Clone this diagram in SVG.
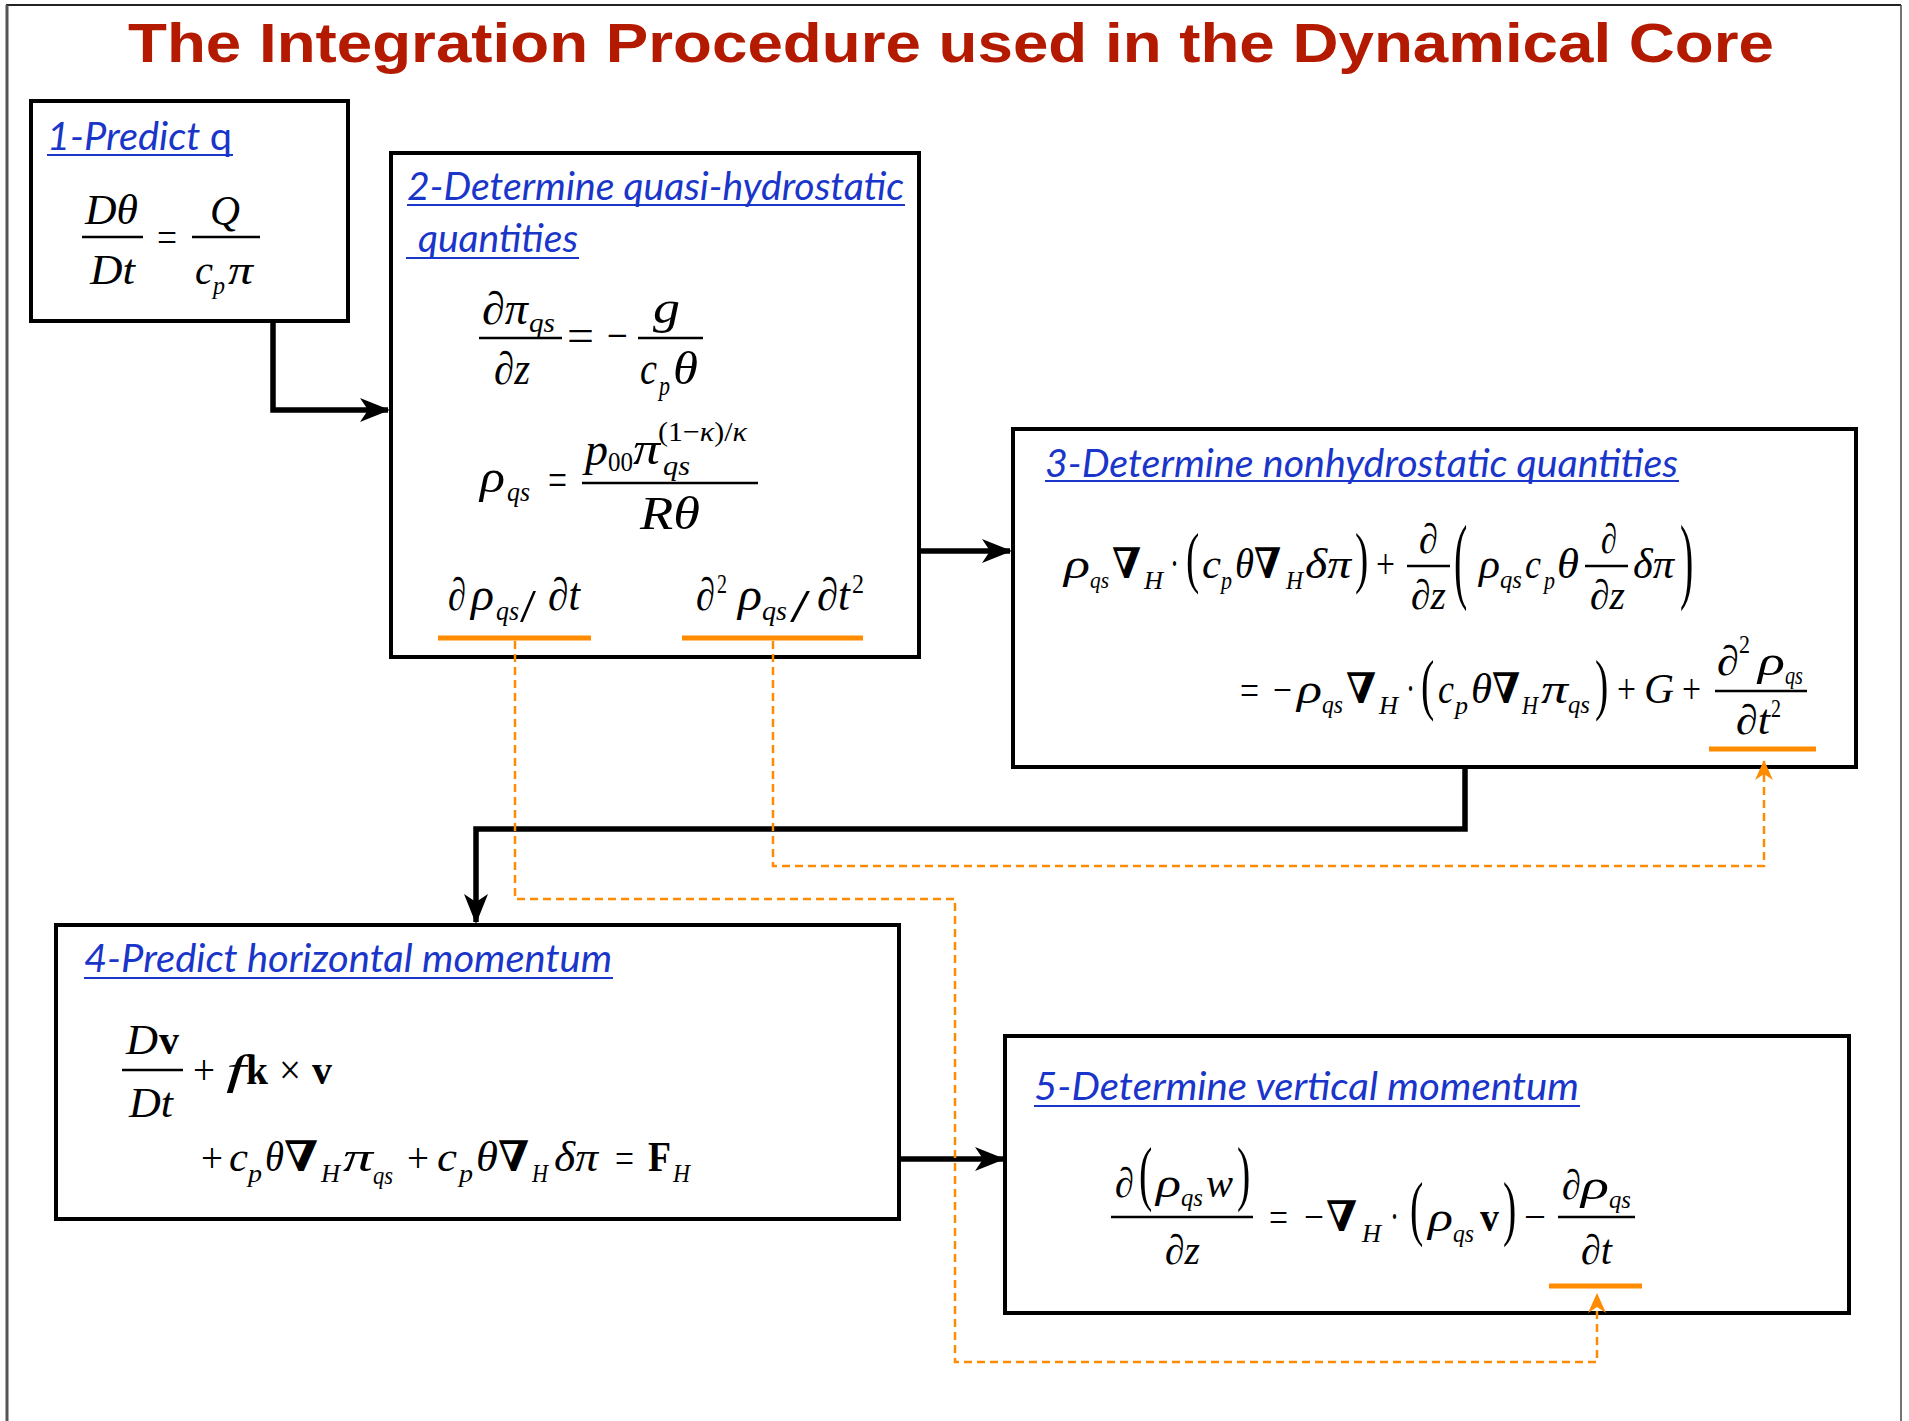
<svg xmlns="http://www.w3.org/2000/svg" width="1909" height="1421" viewBox="0 0 1909 1421">
<style>
.box{fill:#fff;stroke:#000;stroke-width:4}
.ttl{font-family:Lato,"Open Sans",sans-serif;font-style:italic;font-size:38px;fill:#1a35c9}
.ul{stroke:#1a35c9;stroke-width:2}
.m{font-family:"Liberation Serif","DejaVu Serif",serif;font-style:italic;font-size:42px;fill:#000}
.u{font-family:"Liberation Serif","DejaVu Serif",serif;font-size:42px;fill:#000}
.b{font-family:"Liberation Serif","DejaVu Serif",serif;font-weight:bold;font-size:42px;fill:#000}
.s{font-size:26px}
.t2{font-size:46px}
.s2{font-size:28px}
.p{font-family:"Liberation Serif","DejaVu Serif",serif;font-size:40px;fill:#000}
.fb{stroke:#000;stroke-width:2.5}
.ob{stroke:#ff8c00;stroke-width:5}
.blk{fill:none;stroke:#000;stroke-width:5.5}
.org{fill:none;stroke:#ff8c00;stroke-width:2.5;stroke-dasharray:8 5}
</style>
<defs>
<marker id="ah" markerUnits="userSpaceOnUse" viewBox="0 0 30 24" markerWidth="30" markerHeight="24" refX="28" refY="12" orient="auto">
<path d="M0,0 L30,12 L0,24 L8,12 z" fill="#000"/>
</marker>
<marker id="oh" markerUnits="userSpaceOnUse" viewBox="0 0 20 18" markerWidth="20" markerHeight="18" refX="19" refY="9" orient="auto">
<path d="M0,0 L20,9 L0,18 L6,9 z" fill="#ff8c00"/>
</marker>
</defs>
<rect width="1909" height="1421" fill="#fff"/>
<g id="frame" fill="none">
<line x1="6" y1="5" x2="1901" y2="5" stroke="#222" stroke-width="2"/>
<line x1="7" y1="5" x2="7" y2="1421" stroke="#555" stroke-width="3"/>
<line x1="1901" y1="5" x2="1901" y2="1421" stroke="#444" stroke-width="1.5"/>
</g>
<text id="title" x="128" y="62" font-family="'Liberation Sans',Arial,sans-serif" font-weight="bold" font-size="56" fill="#b41a00" textLength="1646" lengthAdjust="spacingAndGlyphs">The Integration Procedure used in the Dynamical Core</text>

<g id="node1">
<rect class="box" x="31" y="101" width="317" height="220"/>
<text class="ttl" x="47" y="150" textLength="185" lengthAdjust="spacingAndGlyphs">1-Predict <tspan font-style="normal">q</tspan></text>
<line class="ul" x1="47" y1="155" x2="233" y2="155"/>
<text class="m" x="85" y="224" textLength="53" lengthAdjust="spacingAndGlyphs">Dθ</text>
<line class="fb" x1="82" y1="237" x2="143" y2="237"/>
<text class="m" x="90" y="284" textLength="45" lengthAdjust="spacingAndGlyphs">Dt</text>
<text class="u" x="157" y="251" textLength="20" lengthAdjust="spacingAndGlyphs">=</text>
<text class="m" x="210" y="225" textLength="30" lengthAdjust="spacingAndGlyphs">Q</text>
<line class="fb" x1="192" y1="237" x2="260" y2="237"/>
<text class="m" x="195" y="284" textLength="18" lengthAdjust="spacingAndGlyphs">c</text>
<text class="m s" x="213" y="294" textLength="12" lengthAdjust="spacingAndGlyphs">p</text>
<text class="m" x="228" y="284" textLength="25" lengthAdjust="spacingAndGlyphs">π</text>
</g>

<g id="node2">
<rect class="box" x="391" y="153" width="528" height="504"/>
<text class="ttl" x="407" y="200" textLength="497" lengthAdjust="spacingAndGlyphs">2-Determine quasi-hydrostatic</text>
<line class="ul" x1="407" y1="205" x2="905" y2="205"/>
<text class="ttl" x="418" y="252" textLength="160" lengthAdjust="spacingAndGlyphs">quantities</text>
<line class="ul" x1="406" y1="258" x2="579" y2="258"/>
<text class="m t2" x="482" y="324" textLength="46" lengthAdjust="spacingAndGlyphs">∂π</text>
<text class="m s2" x="529" y="332" textLength="26" lengthAdjust="spacingAndGlyphs">qs</text>
<line class="fb" x1="479" y1="338" x2="562" y2="338"/>
<text class="m t2" x="494" y="384" textLength="36" lengthAdjust="spacingAndGlyphs">∂z</text>
<text class="u t2" x="567" y="351" textLength="27" lengthAdjust="spacingAndGlyphs">=</text>
<text class="u t2" x="607" y="351" textLength="21" lengthAdjust="spacingAndGlyphs">−</text>
<text class="m t2" x="653" y="323" textLength="27" lengthAdjust="spacingAndGlyphs">g</text>
<line class="fb" x1="638" y1="338" x2="703" y2="338"/>
<text class="m t2" x="640" y="384" textLength="17" lengthAdjust="spacingAndGlyphs">c</text>
<text class="m s2" x="659" y="395" textLength="11" lengthAdjust="spacingAndGlyphs">p</text>
<text class="m t2" x="673" y="384" textLength="25" lengthAdjust="spacingAndGlyphs">θ</text>

<text class="m t2" x="480" y="492" textLength="25" lengthAdjust="spacingAndGlyphs">ρ</text>
<text class="m s2" x="507" y="501" textLength="23" lengthAdjust="spacingAndGlyphs">qs</text>
<text class="u t2" x="548" y="495" textLength="19" lengthAdjust="spacingAndGlyphs">=</text>
<text class="m t2" x="585" y="465" textLength="23" lengthAdjust="spacingAndGlyphs">p</text>
<text class="u s2" x="608" y="471" textLength="25" lengthAdjust="spacingAndGlyphs">00</text>
<text class="m t2" x="633" y="464" textLength="27" lengthAdjust="spacingAndGlyphs">π</text>
<text class="u s2" x="658" y="441" textLength="89" lengthAdjust="spacingAndGlyphs">(1−<tspan font-style="italic">κ</tspan>)/<tspan font-style="italic">κ</tspan></text>
<text class="m s2" x="663" y="475" textLength="27" lengthAdjust="spacingAndGlyphs">qs</text>
<line class="fb" x1="582" y1="483" x2="758" y2="483"/>
<text class="m t2" x="640" y="529" textLength="60" lengthAdjust="spacingAndGlyphs">Rθ</text>

<text class="m t2" x="448" y="610" textLength="18" lengthAdjust="spacingAndGlyphs">∂</text>
<text class="m t2" x="471" y="610" textLength="23" lengthAdjust="spacingAndGlyphs">ρ</text>
<text class="m s2" x="496" y="620" textLength="23" lengthAdjust="spacingAndGlyphs">qs</text>
<text class="u t2" x="520" y="622" textLength="16" lengthAdjust="spacingAndGlyphs">/</text>
<text class="m t2" x="548" y="610" textLength="32" lengthAdjust="spacingAndGlyphs">∂t</text>
<line class="ob" x1="438" y1="638" x2="591" y2="638"/>

<text class="m t2" x="696" y="610" textLength="19" lengthAdjust="spacingAndGlyphs">∂</text>
<text class="u s2" x="717" y="593" textLength="10" lengthAdjust="spacingAndGlyphs">2</text>
<text class="m t2" x="738" y="610" textLength="24" lengthAdjust="spacingAndGlyphs">ρ</text>
<text class="m s2" x="762" y="620" textLength="25" lengthAdjust="spacingAndGlyphs">qs</text>
<text class="u t2" x="790" y="622" textLength="20" lengthAdjust="spacingAndGlyphs">/</text>
<text class="m t2" x="817" y="610" textLength="33" lengthAdjust="spacingAndGlyphs">∂t</text>
<text class="u s2" x="852" y="593" textLength="12" lengthAdjust="spacingAndGlyphs">2</text>
<line class="ob" x1="682" y1="638" x2="863" y2="638"/>
</g>

<g id="node3">
<rect class="box" x="1013" y="429" width="843" height="338"/>
<text class="ttl" x="1045" y="477" textLength="633" lengthAdjust="spacingAndGlyphs">3-Determine nonhydrostatic quantities</text>
<line class="ul" x1="1045" y1="481" x2="1679" y2="481"/>
<text class="m" x="1064" y="578" textLength="26" lengthAdjust="spacingAndGlyphs">ρ</text>
<text class="m" x="1090" y="588" style="font-size:24px" textLength="19" lengthAdjust="spacingAndGlyphs">qs</text>
<text class="b" x="1112" y="578" textLength="29" lengthAdjust="spacingAndGlyphs">∇</text>
<text class="m s" x="1144" y="589" textLength="19" lengthAdjust="spacingAndGlyphs">H</text>
<text class="u" x="1170" y="578" textLength="9" lengthAdjust="spacingAndGlyphs">·</text>
<text class="p" transform="translate(1186,580) scale(1,1.7)">(</text>
<text class="m" x="1202" y="578" textLength="19" lengthAdjust="spacingAndGlyphs">c</text>
<text class="m s" x="1221" y="589" textLength="11" lengthAdjust="spacingAndGlyphs">p</text>
<text class="m" x="1235" y="578" textLength="19" lengthAdjust="spacingAndGlyphs">θ</text>
<text class="b" x="1254" y="578" textLength="27" lengthAdjust="spacingAndGlyphs">∇</text>
<text class="m s" x="1286" y="589" textLength="17" lengthAdjust="spacingAndGlyphs">H</text>
<text class="m" x="1305" y="578" textLength="46" lengthAdjust="spacingAndGlyphs">δπ</text>
<text class="p" transform="translate(1355,580) scale(1,1.7)">)</text>
<text class="u" x="1376" y="578" textLength="19" lengthAdjust="spacingAndGlyphs">+</text>
<text class="m" x="1419" y="553" textLength="19" lengthAdjust="spacingAndGlyphs">∂</text>
<line class="fb" x1="1407" y1="566" x2="1450" y2="566"/>
<text class="m" x="1411" y="609" textLength="35" lengthAdjust="spacingAndGlyphs">∂z</text>
<text class="p" transform="translate(1454,591) scale(1,2.4)">(</text>
<text class="m" x="1479" y="578" textLength="21" lengthAdjust="spacingAndGlyphs">ρ</text>
<text class="m s" x="1500" y="588" textLength="22" lengthAdjust="spacingAndGlyphs">qs</text>
<text class="m" x="1525" y="578" textLength="16" lengthAdjust="spacingAndGlyphs">c</text>
<text class="m s" x="1544" y="589" textLength="11" lengthAdjust="spacingAndGlyphs">p</text>
<text class="m" x="1557" y="578" textLength="22" lengthAdjust="spacingAndGlyphs">θ</text>
<text class="m" x="1601" y="553" textLength="16" lengthAdjust="spacingAndGlyphs">∂</text>
<line class="fb" x1="1585" y1="566" x2="1628" y2="566"/>
<text class="m" x="1590" y="609" textLength="35" lengthAdjust="spacingAndGlyphs">∂z</text>
<text class="m" x="1633" y="578" textLength="41" lengthAdjust="spacingAndGlyphs">δπ</text>
<text class="p" transform="translate(1680,591) scale(1,2.4)">)</text>

<text class="u" x="1240" y="704" textLength="19" lengthAdjust="spacingAndGlyphs">=</text>
<text class="u" x="1273" y="704" textLength="19" lengthAdjust="spacingAndGlyphs">−</text>
<text class="m" x="1297" y="703" textLength="25" lengthAdjust="spacingAndGlyphs">ρ</text>
<text class="m s" x="1322" y="713" textLength="21" lengthAdjust="spacingAndGlyphs">qs</text>
<text class="b" x="1346" y="703" textLength="30" lengthAdjust="spacingAndGlyphs">∇</text>
<text class="m s" x="1379" y="714" textLength="19" lengthAdjust="spacingAndGlyphs">H</text>
<text class="u" x="1406" y="703" textLength="9" lengthAdjust="spacingAndGlyphs">·</text>
<text class="p" transform="translate(1421,707) scale(1,1.7)">(</text>
<text class="m" x="1438" y="703" textLength="16" lengthAdjust="spacingAndGlyphs">c</text>
<text class="m s" x="1455" y="714" textLength="13" lengthAdjust="spacingAndGlyphs">p</text>
<text class="m" x="1471" y="703" textLength="21" lengthAdjust="spacingAndGlyphs">θ</text>
<text class="b" x="1492" y="703" textLength="28" lengthAdjust="spacingAndGlyphs">∇</text>
<text class="m s" x="1522" y="714" textLength="16" lengthAdjust="spacingAndGlyphs">H</text>
<text class="m" x="1541" y="703" textLength="27" lengthAdjust="spacingAndGlyphs">π</text>
<text class="m s" x="1568" y="713" textLength="22" lengthAdjust="spacingAndGlyphs">qs</text>
<text class="p" transform="translate(1595,707) scale(1,1.7)">)</text>
<text class="u" x="1617" y="703" textLength="19" lengthAdjust="spacingAndGlyphs">+</text>
<text class="m" x="1644" y="703" textLength="30" lengthAdjust="spacingAndGlyphs">G</text>
<text class="u" x="1682" y="703" textLength="19" lengthAdjust="spacingAndGlyphs">+</text>
<text class="m" x="1717" y="675" textLength="22" lengthAdjust="spacingAndGlyphs">∂</text>
<text class="u s" x="1739" y="653" textLength="11" lengthAdjust="spacingAndGlyphs">2</text>
<text class="m" x="1758" y="675" textLength="27" lengthAdjust="spacingAndGlyphs">ρ</text>
<text class="m s" x="1785" y="684" textLength="18" lengthAdjust="spacingAndGlyphs">qs</text>
<line class="fb" x1="1715" y1="691" x2="1807" y2="691"/>
<text class="m" x="1736" y="734" textLength="34" lengthAdjust="spacingAndGlyphs">∂t</text>
<text class="u s" x="1771" y="717" textLength="10" lengthAdjust="spacingAndGlyphs">2</text>
<line class="ob" x1="1709" y1="749" x2="1816" y2="749"/>
</g>

<g id="node4">
<rect class="box" x="56" y="925" width="843" height="294"/>
<text class="ttl" x="84" y="972" textLength="528" lengthAdjust="spacingAndGlyphs">4-Predict horizontal momentum</text>
<line class="ul" x1="84" y1="978" x2="613" y2="978"/>
<text class="m" x="126" y="1054" textLength="32" lengthAdjust="spacingAndGlyphs">D</text>
<text class="b" x="159" y="1054" textLength="20" lengthAdjust="spacingAndGlyphs">v</text>
<line class="fb" x1="122" y1="1070" x2="183" y2="1070"/>
<text class="m" x="129" y="1117" textLength="44" lengthAdjust="spacingAndGlyphs">Dt</text>
<text class="u" x="193" y="1084" textLength="22" lengthAdjust="spacingAndGlyphs">+</text>
<text class="m" x="226" y="1084" textLength="20" lengthAdjust="spacingAndGlyphs">f</text>
<text class="b" x="246" y="1084" textLength="22" lengthAdjust="spacingAndGlyphs">k</text>
<text class="u" x="279" y="1084" textLength="22" lengthAdjust="spacingAndGlyphs">×</text>
<text class="b" x="312" y="1084" textLength="20" lengthAdjust="spacingAndGlyphs">v</text>
<text class="u" x="201" y="1172" textLength="22" lengthAdjust="spacingAndGlyphs">+</text>
<text class="m" x="229" y="1171" textLength="19" lengthAdjust="spacingAndGlyphs">c</text>
<text class="m s" x="248" y="1182" textLength="14" lengthAdjust="spacingAndGlyphs">p</text>
<text class="m" x="265" y="1171" textLength="19" lengthAdjust="spacingAndGlyphs">θ</text>
<text class="b" x="284" y="1171" textLength="34" lengthAdjust="spacingAndGlyphs">∇</text>
<text class="m s" x="321" y="1182" textLength="19" lengthAdjust="spacingAndGlyphs">H</text>
<text class="m" x="343" y="1171" textLength="30" lengthAdjust="spacingAndGlyphs">π</text>
<text class="m s" x="373" y="1184" textLength="20" lengthAdjust="spacingAndGlyphs">qs</text>
<text class="u" x="407" y="1172" textLength="22" lengthAdjust="spacingAndGlyphs">+</text>
<text class="m" x="437" y="1171" textLength="20" lengthAdjust="spacingAndGlyphs">c</text>
<text class="m s" x="459" y="1182" textLength="14" lengthAdjust="spacingAndGlyphs">p</text>
<text class="m" x="476" y="1171" textLength="22" lengthAdjust="spacingAndGlyphs">θ</text>
<text class="b" x="498" y="1171" textLength="31" lengthAdjust="spacingAndGlyphs">∇</text>
<text class="m s" x="532" y="1182" textLength="16" lengthAdjust="spacingAndGlyphs">H</text>
<text class="m" x="554" y="1171" textLength="44" lengthAdjust="spacingAndGlyphs">δπ</text>
<text class="u" x="615" y="1172" textLength="19" lengthAdjust="spacingAndGlyphs">=</text>
<text class="b" x="648" y="1171" textLength="23" lengthAdjust="spacingAndGlyphs">F</text>
<text class="m s" x="673" y="1182" textLength="17" lengthAdjust="spacingAndGlyphs">H</text>
</g>

<g id="node5">
<rect class="box" x="1005" y="1036" width="844" height="277"/>
<text class="ttl" x="1034" y="1100" textLength="545" lengthAdjust="spacingAndGlyphs">5-Determine vertical momentum</text>
<line class="ul" x1="1034" y1="1106" x2="1580" y2="1106"/>
<text class="m" x="1115" y="1197" textLength="19" lengthAdjust="spacingAndGlyphs">∂</text>
<text class="p" transform="translate(1139,1197) scale(1,1.78)">(</text>
<text class="m" x="1156" y="1197" textLength="25" lengthAdjust="spacingAndGlyphs">ρ</text>
<text class="m s" x="1181" y="1206" textLength="22" lengthAdjust="spacingAndGlyphs">qs</text>
<text class="m" x="1206" y="1197" textLength="27" lengthAdjust="spacingAndGlyphs">w</text>
<text class="p" transform="translate(1237,1197) scale(1,1.78)">)</text>
<line class="fb" x1="1111" y1="1217" x2="1253" y2="1217"/>
<text class="m" x="1165" y="1264" textLength="35" lengthAdjust="spacingAndGlyphs">∂z</text>
<text class="u" x="1269" y="1231" textLength="19" lengthAdjust="spacingAndGlyphs">=</text>
<text class="u" x="1304" y="1231" textLength="20" lengthAdjust="spacingAndGlyphs">−</text>
<text class="b" x="1326" y="1231" textLength="31" lengthAdjust="spacingAndGlyphs">∇</text>
<text class="m s" x="1362" y="1242" textLength="19" lengthAdjust="spacingAndGlyphs">H</text>
<text class="u" x="1390" y="1231" textLength="9" lengthAdjust="spacingAndGlyphs">·</text>
<text class="p" transform="translate(1410,1232) scale(1,1.78)">(</text>
<text class="m" x="1428" y="1231" textLength="25" lengthAdjust="spacingAndGlyphs">ρ</text>
<text class="m s" x="1453" y="1242" textLength="21" lengthAdjust="spacingAndGlyphs">qs</text>
<text class="b" x="1480" y="1231" textLength="19" lengthAdjust="spacingAndGlyphs">v</text>
<text class="p" transform="translate(1503,1232) scale(1,1.78)">)</text>
<text class="u" x="1524" y="1231" textLength="22" lengthAdjust="spacingAndGlyphs">−</text>
<text class="m" x="1562" y="1199" textLength="19" lengthAdjust="spacingAndGlyphs">∂</text>
<text class="m" x="1581" y="1199" textLength="28" lengthAdjust="spacingAndGlyphs">ρ</text>
<text class="m s" x="1609" y="1208" textLength="22" lengthAdjust="spacingAndGlyphs">qs</text>
<line class="fb" x1="1558" y1="1217" x2="1635" y2="1217"/>
<text class="m" x="1581" y="1264" textLength="31" lengthAdjust="spacingAndGlyphs">∂t</text>
<line class="ob" x1="1549" y1="1286" x2="1642" y2="1286"/>
</g>

<g id="connectors">
<polyline class="blk" points="273,321 273,410 388,410" marker-end="url(#ah)"/>
<polyline class="blk" points="919,551 1010,551" marker-end="url(#ah)"/>
<polyline class="blk" points="1465,767 1465,829 476,829 476,922" marker-end="url(#ah)"/>
<polyline class="blk" points="899,1159 1003,1159" marker-end="url(#ah)"/>
<polyline class="org" points="515,641 515,899 955,899 955,1362 1597,1362 1597,1294" marker-end="url(#oh)"/>
<polyline class="org" points="773,641 773,866 1764,866 1764,761" marker-end="url(#oh)"/>
</g>
</svg>
